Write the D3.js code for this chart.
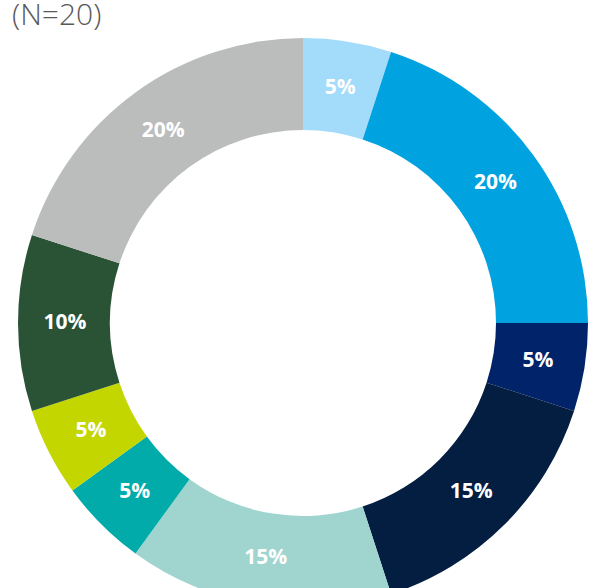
<!DOCTYPE html>
<html>
<head>
<meta charset="utf-8">
<script src="https://cdn.jsdelivr.net/npm/d3@7"></script>
<style>
  body { margin: 0; background: #fff; }
  svg { display: block; }
</style>
</head>
<body>
<div id="chart"></div>
<script>
// data, clockwise from 12 o'clock
const categories = ["A", "B", "C", "D", "E", "F", "G", "H", "I"];
const values = [5, 20, 5, 15, 15, 5, 5, 10, 20];
const labels = ["5%", "20%", "5%", "15%", "15%", "5%", "5%", "10%", "20%"];
const colors = ["#a3dbfa", "#00a2e0", "#002369", "#041e42", "#9fd4cf",
                "#00aba9", "#c4d600", "#2a5234", "#bbbcbc"];
const title = "(N=20)";

const width = 594, height = 588;
const cx = 303, cy = 323;
const outerR = 285, innerR = 193, labelR = 238;

const svg = d3.select("#chart")
  .append("svg")
    .attr("width", width)
    .attr("height", height);

svg.append("text")
  .attr("x", 12)
  .attr("y", 25)
  .attr("font-family", "Open Sans, sans-serif")
  .attr("font-weight", 300)
  .attr("font-size", "30px")
  .attr("fill", "#595959")
  .text(title);

const data = categories.map((c, i) => ({cat: c, value: values[i], label: labels[i], color: colors[i]}));

const pie = d3.pie()
  .value(d => d.value)
  .sort(null);

const arc = d3.arc()
  .innerRadius(innerR)
  .outerRadius(outerR);

const labelArc = d3.arc()
  .innerRadius(labelR)
  .outerRadius(labelR);

const g = svg.append("g")
  .attr("transform", `translate(${cx},${cy})`);

const arcs = pie(data);

g.selectAll("path")
  .data(arcs)
  .join("path")
    .attr("d", arc)
    .attr("fill", d => d.data.color);

g.selectAll("text")
  .data(arcs)
  .join("text")
    .attr("transform", d => `translate(${labelArc.centroid(d)})`)
    .attr("text-anchor", "middle")
    .attr("dy", "0.3em")
    .attr("font-family", "Open Sans, sans-serif")
    .attr("font-weight", "bold")
    .attr("font-size", "21px")
    .attr("fill", "#fff")
    .text(d => d.data.label);
</script>
</body>
</html>
